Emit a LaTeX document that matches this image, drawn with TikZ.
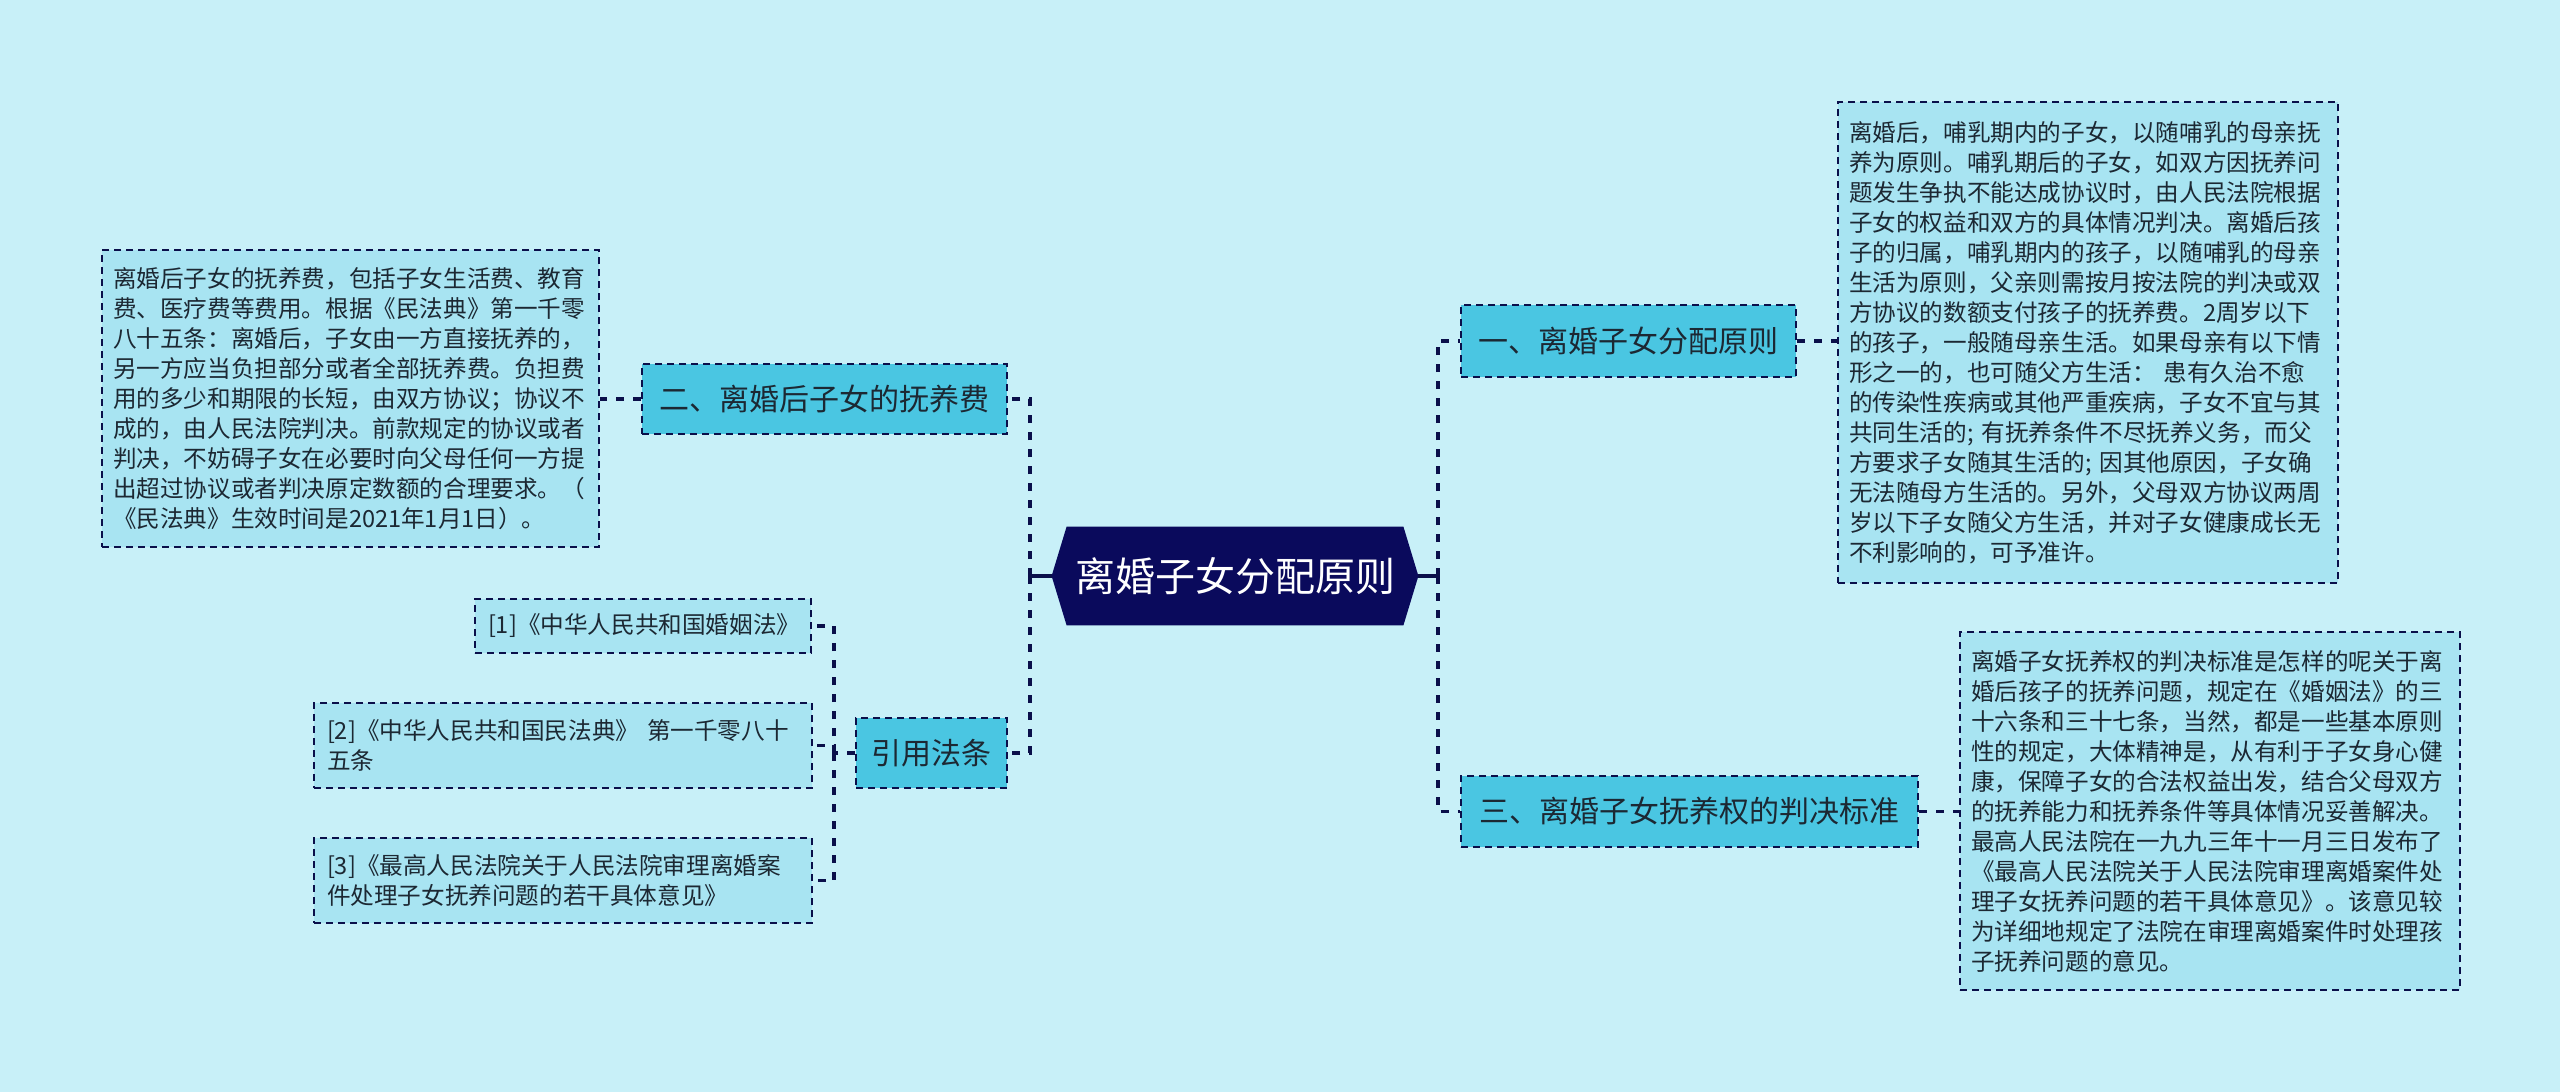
\documentclass[tikz,border=0pt]{standalone}
\usepackage{fontspec}
\setmainfont{Noto Sans CJK SC}
\usetikzlibrary{backgrounds}
\definecolor{bgc}{HTML}{C8F0F8}
\definecolor{branchc}{HTML}{4AC6E2}
\definecolor{detailc}{HTML}{A8E4F2}
\definecolor{linec}{HTML}{0A0F4A}
\definecolor{hexc}{HTML}{0A0A5C}
\definecolor{textc}{HTML}{1C2833}
\begin{document}
\begin{tikzpicture}[x=0.5pt,y=-0.5pt,
  conn/.style={draw=linec, line width=1.6pt, dash pattern=on 4pt off 4.5pt},
  solidconn/.style={draw=linec, line width=1.6pt},
  boxline/.style={draw=linec, line width=1pt, dash pattern=on 3.5pt off 2.5pt},
  branch/.style={boxline, fill=branchc, font=\fontsize{15}{18}\selectfont, text=textc, inner sep=0pt},
  detail/.style={boxline, fill=detailc, font=\fontsize{11.8}{15}\selectfont, text=textc, align=left, inner xsep=5.5pt, inner ysep=0pt},
  cite/.style={boxline, fill=detailc, font=\fontsize{11.8}{15}\selectfont, text=textc, align=left, inner xsep=6.5pt, inner ysep=0pt},
  hexnode/.style={inner sep=0pt, text=white, font=\fontsize{20}{24}\selectfont}
]
\useasboundingbox (0,0) rectangle (2560,1092);

% central node
\node[hexnode, minimum width=183pt, minimum height=49pt] (hex) at (1235,576) {离婚子女分配原则};
\begin{scope}[on background layer]
  \fill[bgc] (0,0) rectangle (2560,1092);
  \fill[hexc] (hex.west) -- ([xshift=7.5pt]hex.north west) -- ([xshift=-7.5pt]hex.north east) -- (hex.east) -- ([xshift=-7.5pt]hex.south east) -- ([xshift=7.5pt]hex.south west) -- cycle;
\end{scope}

% branches
\node[branch, minimum width=167.5pt, minimum height=36pt] (b1) at (1628.5,341) {一、离婚子女分配原则};
\node[branch, minimum width=228.5pt, minimum height=35.5pt] (b3) at (1689.5,811.5) {三、离婚子女抚养权的判决标准};
\node[branch, minimum width=182.5pt, minimum height=35pt] (b2) at (824.5,399) {二、离婚后子女的抚养费};
\node[branch, minimum width=75.5pt, minimum height=35pt] (law) at (931.5,753) {引用法条};

% details
\node[detail, text width=239pt, minimum height=240.5pt] (d1) at (2088,342.5) {离婚后，哺乳期内的子女，以随哺乳的母亲抚\\养为原则。哺乳期后的子女，如双方因抚养问\\题发生争执不能达成协议时，由人民法院根据\\子女的权益和双方的具体情况判决。离婚后孩\\子的归属，哺乳期内的孩子，以随哺乳的母亲\\生活为原则，父亲则需按月按法院的判决或双\\方协议的数额支付孩子的抚养费。2周岁以下\\的孩子，一般随母亲生活。如果母亲有以下情\\形之一的，也可随父方生活： 患有久治不愈\\的传染性疾病或其他严重疾病，子女不宜与其\\共同生活的; 有抚养条件不尽抚养义务，而父\\方要求子女随其生活的; 因其他原因，子女确\\无法随母方生活的。另外，父母双方协议两周\\岁以下子女随父方生活，并对子女健康成长无\\不利影响的，可予准许。};
\node[detail, text width=239pt, minimum height=179pt] (d3) at (2210,811) {离婚子女抚养权的判决标准是怎样的呢关于离\\婚后孩子的抚养问题，规定在《婚姻法》的三\\十六条和三十七条，当然，都是一些基本原则\\性的规定，大体精神是，从有利于子女身心健\\康，保障子女的合法权益出发，结合父母双方\\的抚养能力和抚养条件等具体情况妥善解决。\\最高人民法院在一九九三年十一月三日发布了\\《最高人民法院关于人民法院审理离婚案件处\\理子女抚养问题的若干具体意见》。该意见较\\为详细地规定了法院在审理离婚案件时处理孩\\子抚养问题的意见。};
\node[detail, text width=237.5pt, minimum height=148.5pt] (d2) at (350.5,398.5) {离婚后子女的抚养费，包括子女生活费、教育\\费、医疗费等费用。根据《民法典》第一千零\\八十五条：离婚后，子女由一方直接抚养的，\\另一方应当负担部分或者全部抚养费。负担费\\用的多少和期限的长短，由双方协议；协议不\\成的，由人民法院判决。前款规定的协议或者\\判决，不妨碍子女在必要时向父母任何一方提\\出超过协议或者判决原定数额的合理要求。（\\《民法典》生效时间是2021年1月1日）。};

% citations
\node[cite, text width=155pt, minimum height=27pt] (c1) at (643,626) {[1]《中华人民共和国婚姻法》};
\node[cite, text width=236pt, minimum height=42.5pt] (c2) at (563,745.5) {[2]《中华人民共和国民法典》 第一千零八十\\五条};
\node[cite, text width=236pt, minimum height=42.5pt] (c3) at (563,880.5) {[3]《最高人民法院关于人民法院审理离婚案\\件处理子女抚养问题的若干具体意见》};

% connectors
\coordinate (jl) at (1030,576);
\coordinate (jr) at (1438,576);
\coordinate (jc) at (834,753);
\draw[solidconn] (hex.west) -- (jl);
\draw[solidconn] (hex.east) -- (jr);
\draw[conn] (jl) |- (b2.east);
\draw[conn] (jl) |- (law.east);
\draw[conn] (jr) |- (b1.west);
\draw[conn] (jr) |- (b3.west);
\draw[conn] (b1.east) -- (d1.west |- b1.east);
\draw[conn] (b3.east) -- (d3.west |- b3.east);
\draw[conn] (b2.west) -- (d2.east |- b2.west);
\draw[conn] (law.west) -- (jc);
\draw[conn] (jc) |- (c1.east);
\draw[conn] (jc) |- (c2.east);
\draw[conn] (jc) |- (c3.east);
\end{tikzpicture}
\end{document}
